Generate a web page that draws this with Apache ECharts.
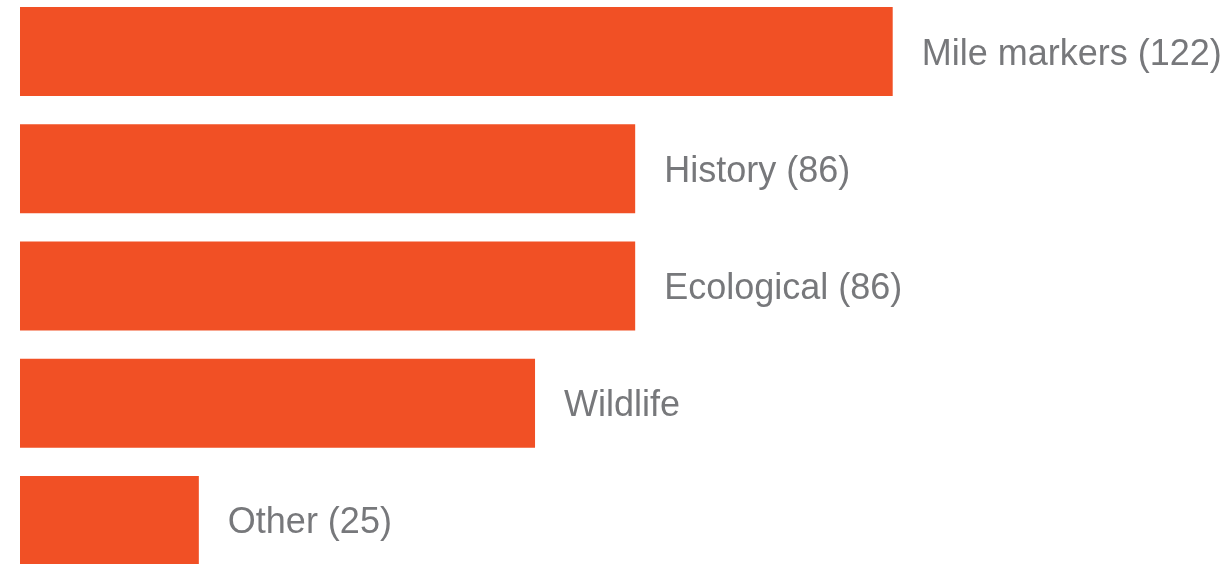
<!DOCTYPE html>
<html>
<head>
<meta charset="utf-8">
<script src="https://cdn.jsdelivr.net/npm/echarts@6/dist/echarts.min.js"></script>
<style>
  html, body { margin: 0; padding: 0; background: #fff; }
  #chart { width: 1230px; height: 564px; }
</style>
</head>
<body>
<div id="chart"></div>
<script>
var categories = ["Mile markers", "History", "Ecological", "Wildlife", "Other"];
var values = [122, 86, 86, 72, 25];
var labels = ["Mile markers (122)", "History (86)", "Ecological (86)", "Wildlife", "Other (25)"];

var myChart = echarts.init(document.getElementById("chart"));
var option = {
  animation: false,
  grid: {
    left: 20,
    top: -7,
    width: 1073,
    height: 586,
    outerBoundsMode: "none",
    containLabel: false
  },
  xAxis: {
    type: "value",
    min: 0,
    max: 150,
    show: false
  },
  yAxis: {
    type: "category",
    inverse: true,
    data: categories,
    show: false
  },
  series: [
    {
      type: "bar",
      data: values,
      barWidth: 89,
      itemStyle: { color: "#F15025" },
      label: {
        show: true,
        position: "right",
        distance: 29,
        offset: [0, 3],
        color: "#77787b",
        fontSize: 36,
        fontFamily: "Liberation Sans, Arial, sans-serif",
        formatter: function (p) {
          return labels[p.dataIndex];
        }
      }
    }
  ]
};
myChart.setOption(option);
</script>
</body>
</html>
